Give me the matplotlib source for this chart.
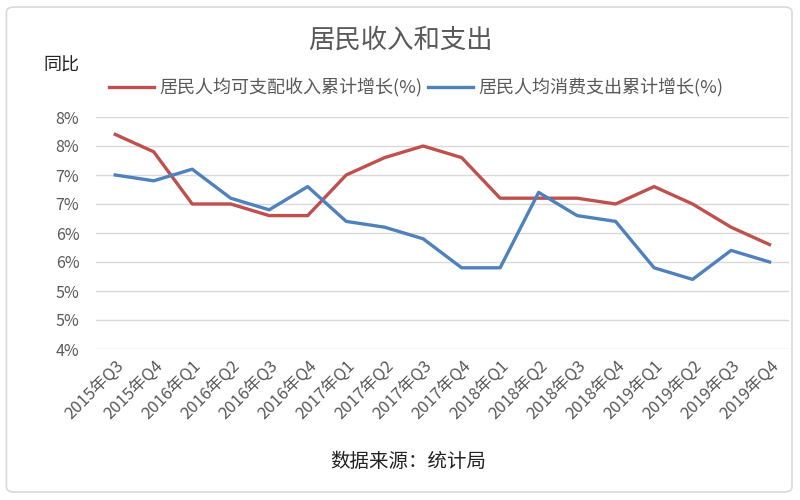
# -*- coding: utf-8 -*-
"""居民收入和支出 折线图"""
import matplotlib
matplotlib.use("Agg")
import matplotlib.pyplot as plt
from matplotlib.patches import FancyBboxPatch
from matplotlib.ticker import FuncFormatter

plt.rcParams['font.family'] = ['Noto Sans CJK SC', 'DejaVu Sans']
plt.rcParams['axes.unicode_minus'] = False

# 数据
quarters = ['2015年Q3', '2015年Q4',
            '2016年Q1', '2016年Q2', '2016年Q3', '2016年Q4',
            '2017年Q1', '2017年Q2', '2017年Q3', '2017年Q4',
            '2018年Q1', '2018年Q2', '2018年Q3', '2018年Q4',
            '2019年Q1', '2019年Q2', '2019年Q3', '2019年Q4']
income_growth = [7.7, 7.4, 6.5, 6.5, 6.3, 6.3, 7.0, 7.3, 7.5, 7.3,
                 6.6, 6.6, 6.6, 6.5, 6.8, 6.5, 6.1, 5.8]
spending_growth = [7.0, 6.9, 7.1, 6.6, 6.4, 6.8, 6.2, 6.1, 5.9, 5.4,
                   5.4, 6.7, 6.3, 6.2, 5.4, 5.2, 5.7, 5.5]
y_ticks = [4.0, 4.5, 5.0, 5.5, 6.0, 6.5, 7.0, 7.5, 8.0]

RED = '#C0504D'
BLUE = '#4F81BD'
GRAY = '#595959'

fig = plt.figure(figsize=(8, 5), dpi=100)
fig.patch.set_facecolor('white')

# 外框
frame = FancyBboxPatch((0.008, 0.016), 0.982, 0.97,
                       boxstyle='round,pad=0,rounding_size=0.01',
                       transform=fig.transFigure, facecolor='none',
                       edgecolor='#D9D9D9', linewidth=1.2, zorder=-1)
fig.patches.append(frame)

ax = fig.add_axes([0.12, 0.302, 0.866, 0.464])
ax.patch.set_alpha(0)
x = list(range(len(quarters)))
ax.plot(x, income_growth, color=RED, linewidth=2.4, solid_joinstyle='round',
        label='居民人均可支配收入累计增长(%)')
ax.plot(x, spending_growth, color=BLUE, linewidth=2.4, solid_joinstyle='round',
        label='居民人均消费支出累计增长(%)')

ax.set_xlim(-0.5, len(quarters) - 0.5)
ax.set_ylim(4, 8)
ax.set_yticks(y_ticks)
# Excel 式四舍五入
ax.yaxis.set_major_formatter(FuncFormatter(lambda v, p: f'{int(v + 0.5)}%'))
ax.grid(axis='y', color='#D9D9D9', linewidth=1)
ax.set_axisbelow(True)
for s in ax.spines.values():
    s.set_visible(False)
ax.tick_params(axis='both', length=0, colors=GRAY, labelsize=11.5)
ax.tick_params(axis='y', pad=12)
ax.set_xticks(x)
ax.set_xticklabels(quarters, rotation=45, ha='right', rotation_mode='anchor',
                   fontsize=12, color=GRAY)
ax.tick_params(axis='x', pad=6)

fig.text(0.5, 0.92, '居民收入和支出', ha='center', va='center',
         fontsize=19, color=GRAY)
fig.text(0.077, 0.868, '同比', ha='center', va='center',
         fontsize=13, color='#222222')

ax.legend(loc='center', bbox_to_anchor=(0.52, 0.824),
          bbox_transform=fig.transFigure, ncol=2, frameon=False,
          fontsize=13, handlelength=2.5, handletextpad=0.3,
          columnspacing=0.3, labelcolor=GRAY)

fig.text(0.51, 0.077, '数据来源：统计局', ha='center', va='center',
         fontsize=14, color='#222222')

fig.savefig('out.png', dpi=100)
plt.close(fig)
